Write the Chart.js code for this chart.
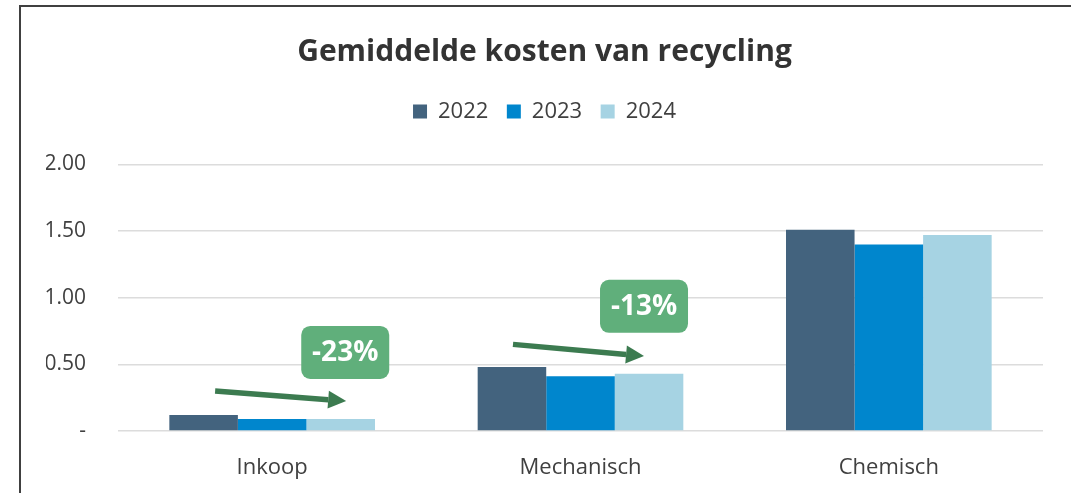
<!DOCTYPE html>
<html>
<head>
<meta charset="utf-8">
<script src="https://cdn.jsdelivr.net/npm/chart.js"></script>
<style>
  body { margin: 0; background: #fff; }
  #wrap { position: relative; width: 1071px; height: 493px; overflow: hidden; }
  #frame { position: absolute; left: 19px; top: 5px; width: 1200px; height: 600px;
           border-left: 2px solid #404040; border-top: 2px solid #404040; }
  canvas { position: absolute; left: 0; top: 0; }
</style>
</head>
<body>
<div id="wrap">
  <canvas id="chart" width="1071" height="493"></canvas>
  <div id="frame"></div>
</div>
<script>
// data
var categories = ["Inkoop", "Mechanisch", "Chemisch"];
var years = ["2022", "2023", "2024"];
var kosten2022 = [0.12, 0.48, 1.51];
var kosten2023 = [0.09, 0.41, 1.40];
var kosten2024 = [0.09, 0.43, 1.47];
var tickValues = [0, 0.5, 1, 1.5, 2];
var changeLabels = ["-23%", "-13%"];

var colors = ["#43637e", "#0086cd", "#a6d3e3"];
var font = "'Open Sans', 'Noto Sans', sans-serif";

// arrows + green labels (category index, offsets in category widths, values on y)
var notes = [
  { cat: 0, text: changeLabels[0], from: [-0.185, 0.30], to: [0.24, 0.225], box: [0.237, 0.59] },
  { cat: 1, text: changeLabels[1], from: [-0.219, 0.65], to: [0.206, 0.562], box: [0.206, 0.936] }
];

var notePlugin = {
  id: "notes",
  afterDatasetsDraw: function (chart) {
    var ctx = chart.ctx;
    var x = chart.scales.x, y = chart.scales.y;
    var catW = x.getPixelForValue(1) - x.getPixelForValue(0);
    notes.forEach(function (n) {
      var cx = x.getPixelForValue(n.cat);
      var x1 = cx + n.from[0] * catW, y1 = y.getPixelForValue(n.from[1]);
      var x2 = cx + n.to[0] * catW, y2 = y.getPixelForValue(n.to[1]);
      var ang = Math.atan2(y2 - y1, x2 - x1);
      var headLen = 18, headW = 9;
      var bx = x2 - headLen * Math.cos(ang), by = y2 - headLen * Math.sin(ang);
      ctx.save();
      // shaft
      ctx.strokeStyle = "#3c7b50";
      ctx.lineWidth = 5.5;
      ctx.beginPath();
      ctx.moveTo(x1, y1);
      ctx.lineTo(bx, by);
      ctx.stroke();
      // head
      ctx.fillStyle = "#3c7b50";
      ctx.beginPath();
      ctx.moveTo(x2, y2);
      ctx.lineTo(bx + headW * Math.sin(ang), by - headW * Math.cos(ang));
      ctx.lineTo(bx - headW * Math.sin(ang), by + headW * Math.cos(ang));
      ctx.closePath();
      ctx.fill();
      // label box
      var w = 88, h = 53;
      var mx = cx + n.box[0] * catW, my = y.getPixelForValue(n.box[1]);
      ctx.fillStyle = "#60af7b";
      ctx.beginPath();
      ctx.roundRect(mx - w / 2, my - h / 2, w, h, 9);
      ctx.fill();
      ctx.fillStyle = "#ffffff";
      ctx.font = "bold 28px " + font;
      ctx.textAlign = "center";
      ctx.textBaseline = "middle";
      ctx.fillText(n.text, mx, my + 1);
      ctx.restore();
    });
  }
};

var ctx = document.getElementById("chart").getContext("2d");
var chart = new Chart(ctx, {
  type: "bar",
  data: {
    labels: categories,
    datasets: [
      { label: years[0], data: kosten2022, backgroundColor: colors[0] },
      { label: years[1], data: kosten2023, backgroundColor: colors[1] },
      { label: years[2], data: kosten2024, backgroundColor: colors[2] }
    ]
  },
  options: {
    responsive: false,
    animation: false,
    layout: { padding: { top: 10, left: 46, right: 28, bottom: 0 } },
    datasets: { bar: { categoryPercentage: 0.667, barPercentage: 1.0 } },
    plugins: {
      title: {
        display: true,
        text: "Gemiddelde kosten van recycling",
        color: "#333333",
        font: { family: font, size: 30, weight: "bold" },
        padding: { top: 24.6, bottom: 11.4 }
      },
      legend: {
        display: true,
        labels: {
          color: "#404040",
          font: { family: font, size: 22 },
          boxWidth: 14,
          boxHeight: 14,
          padding: 18.5
        }
      },
      tooltip: { enabled: false }
    },
    scales: {
      x: {
        afterFit: function (scale) { scale.height = 62; },
        grid: { display: false, drawTicks: false },
        border: { display: false },
        ticks: { color: "#404040", font: { family: font, size: 22 }, padding: 23.5 }
      },
      y: {
        min: 0,
        // a little head room above 2.00 so the plot starts below the legend
        max: 2.24,
        afterBuildTicks: function (scale) {
          scale.ticks = tickValues.map(function (v) { return { value: v }; });
        },
        afterFit: function (scale) { scale.width = 72; },
        grid: { color: "#dcdcdc", lineWidth: 1.5, drawTicks: false },
        border: { display: false },
        ticks: {
          color: "#404040",
          font: { family: font, size: 21 },
          padding: 32,
          callback: function (v) { return v === 0 ? "-" : v.toFixed(2); }
        }
      }
    }
  },
  plugins: [notePlugin]
});
</script>
</body>
</html>
